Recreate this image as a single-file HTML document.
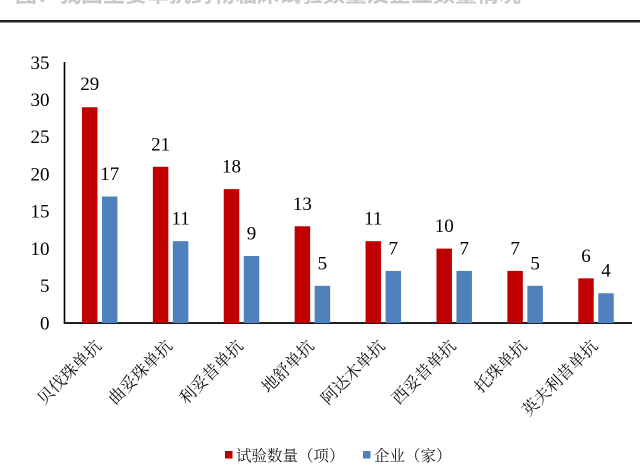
<!DOCTYPE html>
<html>
<head>
<meta charset="utf-8">
<style>
  html,body{margin:0;padding:0;background:#fff;}
  body{position:relative;width:640px;height:470px;overflow:hidden;}
  svg{display:block;position:absolute;left:0;top:0;}
  .rule{position:absolute;left:0;top:20px;width:640px;height:2px;background:#222;}
  .num{font-family:"Liberation Serif","Noto Serif CJK SC",serif;font-size:19px;fill:#000;}
  .cat{font-family:"Liberation Serif","Noto Serif CJK SC",serif;font-size:16.5px;fill:#111;}
  .leg{font-family:"Liberation Serif","Noto Serif CJK SC",serif;font-size:15.5px;fill:#222;}
</style>
</head>
<body>
<div class="rule"></div>
<svg width="640" height="470" viewBox="0 0 640 470" xmlns="http://www.w3.org/2000/svg">
  <!-- clipped title fragment -->
  <text x="15" y="2" font-family="'Noto Sans CJK SC',sans-serif" font-size="22" font-weight="bold" fill="#c8c8c8">图：我国主要单抗药物临床试验数量及企业数量情况</text>
  <line x1="0" y1="21.5" x2="640" y2="21.5" stroke="#222" stroke-width="2"/>

  <!-- axes -->
  <line x1="64.5" y1="62" x2="64.5" y2="323.5" stroke="#000" stroke-width="1.6"/>
  <line x1="63.7" y1="323" x2="632" y2="323" stroke="#000" stroke-width="1.8"/>

  <!-- y tick labels -->
  <g class="num" text-anchor="end">
    <text x="49.5" y="69">35</text>
    <text x="49.5" y="106">30</text>
    <text x="49.5" y="143">25</text>
    <text x="49.5" y="180.5">20</text>
    <text x="49.5" y="217.5">15</text>
    <text x="49.5" y="255">10</text>
    <text x="49.5" y="292">5</text>
    <text x="49.5" y="329.5">0</text>
  </g>

  <!-- bars -->
  <g fill="#C00000">
    <rect x="81.95" y="107.24" width="15.5" height="215.76"/>
    <rect x="152.85" y="166.76" width="15.5" height="156.24"/>
    <rect x="223.75" y="189.08" width="15.5" height="133.92"/>
    <rect x="294.65" y="226.28" width="15.5" height="96.72"/>
    <rect x="365.55" y="241.16" width="15.5" height="81.84"/>
    <rect x="436.45" y="248.6" width="15.5" height="74.4"/>
    <rect x="507.35" y="270.92" width="15.5" height="52.08"/>
    <rect x="578.25" y="278.36" width="15.5" height="44.64"/>
  </g>
  <g fill="#4F81BD">
    <rect x="101.95" y="196.52" width="15.5" height="126.48"/>
    <rect x="172.85" y="241.16" width="15.5" height="81.84"/>
    <rect x="243.75" y="256.04" width="15.5" height="66.96"/>
    <rect x="314.65" y="285.8" width="15.5" height="37.2"/>
    <rect x="385.55" y="270.92" width="15.5" height="52.08"/>
    <rect x="456.45" y="270.92" width="15.5" height="52.08"/>
    <rect x="527.35" y="285.8" width="15.5" height="37.2"/>
    <rect x="598.25" y="293.24" width="15.5" height="29.76"/>
  </g>

  <!-- data labels -->
  <g class="num" text-anchor="middle">
    <text x="89.7" y="90.2">29</text>
    <text x="109.7" y="180">17</text>
    <text x="160.6" y="150.3">21</text>
    <text x="180.6" y="224.7">11</text>
    <text x="231.5" y="172.6">18</text>
    <text x="251.5" y="239.5">9</text>
    <text x="302.4" y="209.8">13</text>
    <text x="322.4" y="269.3">5</text>
    <text x="373.3" y="224.7">11</text>
    <text x="393.3" y="254.4">7</text>
    <text x="444.2" y="232.1">10</text>
    <text x="464.2" y="254.4">7</text>
    <text x="515.1" y="254.4">7</text>
    <text x="535.1" y="269.3">5</text>
    <text x="586" y="261.9">6</text>
    <text x="606" y="276.7">4</text>
  </g>

  <!-- category labels -->
  <g class="cat" text-anchor="end">
    <text x="102.5" y="347" transform="rotate(-45 102.5 347)">贝伐珠单抗</text>
    <text x="173.4" y="347" transform="rotate(-45 173.4 347)">曲妥珠单抗</text>
    <text x="244.3" y="347" transform="rotate(-45 244.3 347)">利妥昔单抗</text>
    <text x="315.2" y="347" transform="rotate(-45 315.2 347)">地舒单抗</text>
    <text x="386.1" y="347" transform="rotate(-45 386.1 347)">阿达木单抗</text>
    <text x="457" y="347" transform="rotate(-45 457 347)">西妥昔单抗</text>
    <text x="527.9" y="347" transform="rotate(-45 527.9 347)">托珠单抗</text>
    <text x="598.8" y="347" transform="rotate(-45 598.8 347)">英夫利昔单抗</text>
  </g>

  <!-- legend -->
  <rect x="225" y="451" width="7.5" height="7.5" fill="#C00000"/>
  <text class="leg" x="236" y="461">试验数量（项）</text>
  <rect x="363" y="451" width="7.5" height="7.5" fill="#4F81BD"/>
  <text class="leg" x="374" y="461">企业（家）</text>
</svg>
</body>
</html>
